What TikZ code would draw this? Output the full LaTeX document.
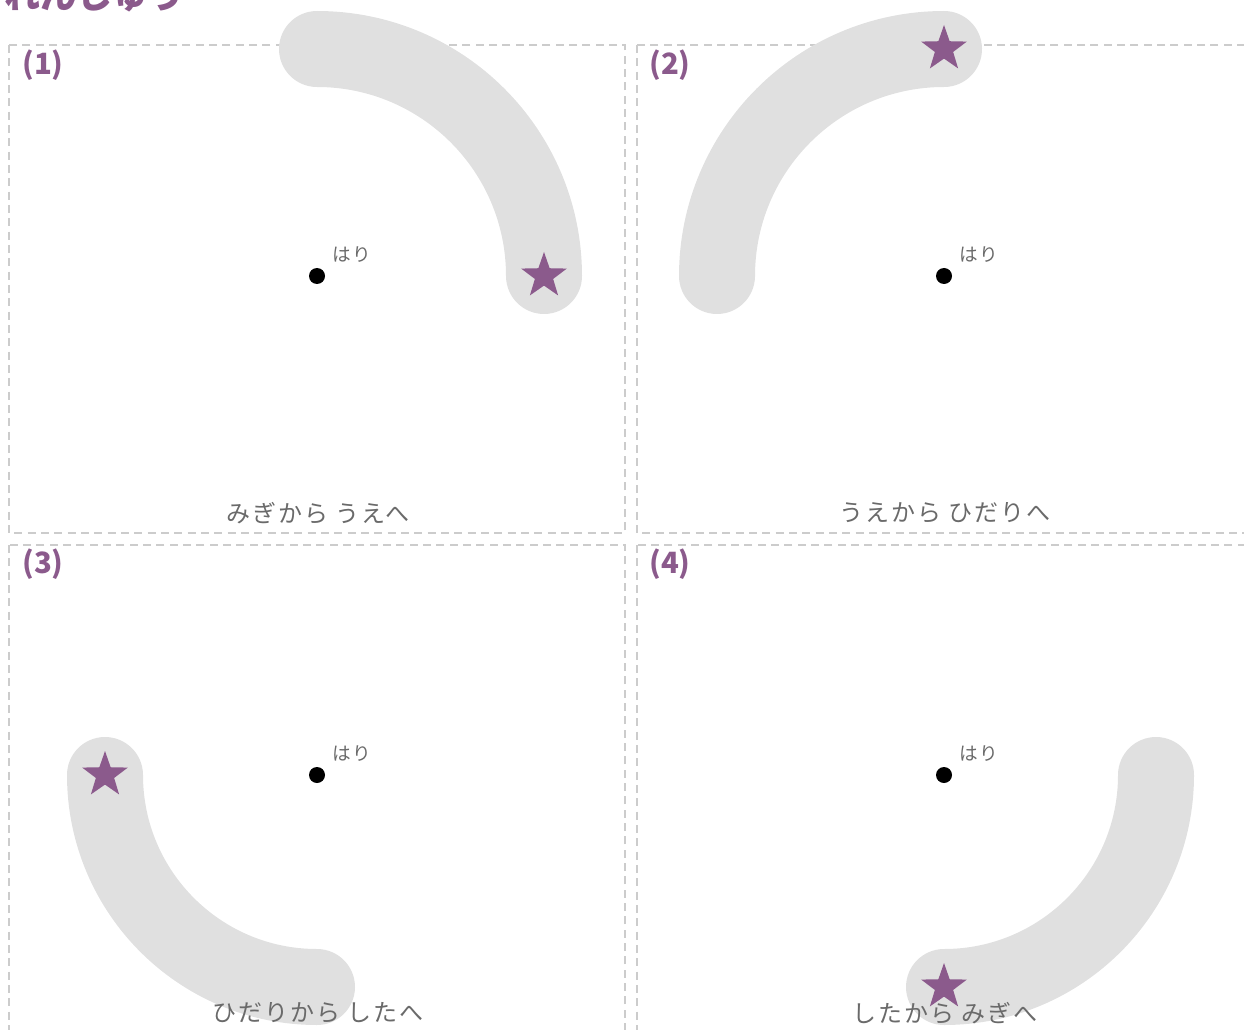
\documentclass[tikz,border=0pt]{standalone}
\usepackage{fontspec}
\setmainfont{Noto Sans CJK JP}
\usetikzlibrary{shapes.geometric}
\definecolor{kpurple}{HTML}{8B5A8C}
\definecolor{karc}{HTML}{E0E0E0}
\definecolor{kframe}{HTML}{CCCCCC}
\definecolor{ktext}{HTML}{6A6A6A}
\tikzset{
  panel/.style={draw=kframe,line width=0.8pt,dash pattern=on 6pt off 4pt},
  track/.style={draw=karc,line width=57pt,line cap=round},
  goal/.style={star,star points=5,star point ratio=2.5,fill=kpurple,minimum size=36pt,inner sep=0pt},
  hari/.style={circle,fill=black,minimum size=12pt,inner sep=0pt},
  harilabel/.style={text=ktext,font=\fontsize{14}{16}\selectfont\addfontfeatures{LetterSpace=4},inner sep=0pt},
  caption/.style={text=ktext,font=\fontsize{18}{21}\selectfont\addfontfeatures{LetterSpace=8},inner sep=0pt},
  number/.style={text=kpurple,font=\fontsize{22}{26}\selectfont\bfseries,inner sep=0pt},
}
\begin{document}
\begin{tikzpicture}[x=0.75pt,y=-0.75pt]
  \useasboundingbox (0,0) rectangle (1244,1030);
  % title
  \node[text=kpurple,font=\fontsize{27}{30}\selectfont\bfseries,anchor=west,inner sep=0pt] (title) at (4,-4) {れんしゅう};
  % frames
  \draw[panel] (9,45) rectangle (625,533);
  \draw[panel] (637,45) rectangle (1253,533);
  \draw[panel] (9,545) rectangle (625,1040);
  \draw[panel] (637,545) rectangle (1253,1040);
  % centres
  \coordinate (c1) at (317,276);
  \coordinate (c2) at (944,276);
  \coordinate (c3) at (317,775);
  \coordinate (c4) at (944,775);
  % tracks
  \draw[track] ([xshift=227*0.75pt]c1) arc[start angle=0,end angle=-90,radius=227];
  \draw[track] ([yshift=227*0.75pt]c2) arc[start angle=-90,end angle=-180,radius=227];
  \draw[track] ([xshift=-212*0.75pt]c3) arc[start angle=180,end angle=90,radius=212];
  \draw[track] ([yshift=-212*0.75pt]c4) arc[start angle=90,end angle=0,radius=212];
  % stars
  \node[goal] (star1) at ([xshift=227*0.75pt]c1) {};
  \node[goal] (star2) at ([yshift=227*0.75pt]c2) {};
  \node[goal] (star3) at ([xshift=-212*0.75pt]c3) {};
  \node[goal] (star4) at ([yshift=-212*0.75pt]c4) {};
  % pins
  \node[hari] (pin1) at (c1) {};
  \node[hari] (pin2) at (c2) {};
  \node[hari] (pin3) at (c3) {};
  \node[hari] (pin4) at (c4) {};
  \node[harilabel] (pinlabel1) at (352,255) {はり};
  \node[harilabel] (pinlabel2) at (979,255) {はり};
  \node[harilabel] (pinlabel3) at (352,754) {はり};
  \node[harilabel] (pinlabel4) at (979,754) {はり};
  % numbers
  \node[number] (num1) at (43,65) {(1)};
  \node[number] (num2) at (670,65) {(2)};
  \node[number] (num3) at (43,564) {(3)};
  \node[number] (num4) at (670,564) {(4)};
  % captions
  \node[caption] (cap1) at (318,513) {みぎから うえへ};
  \node[caption] (cap2) at (945,513) {うえから ひだりへ};
  \node[caption] (cap3) at (318,1013) {ひだりから したへ};
  \node[caption] (cap4) at (945,1013) {したから みぎへ};
\end{tikzpicture}
\end{document}
